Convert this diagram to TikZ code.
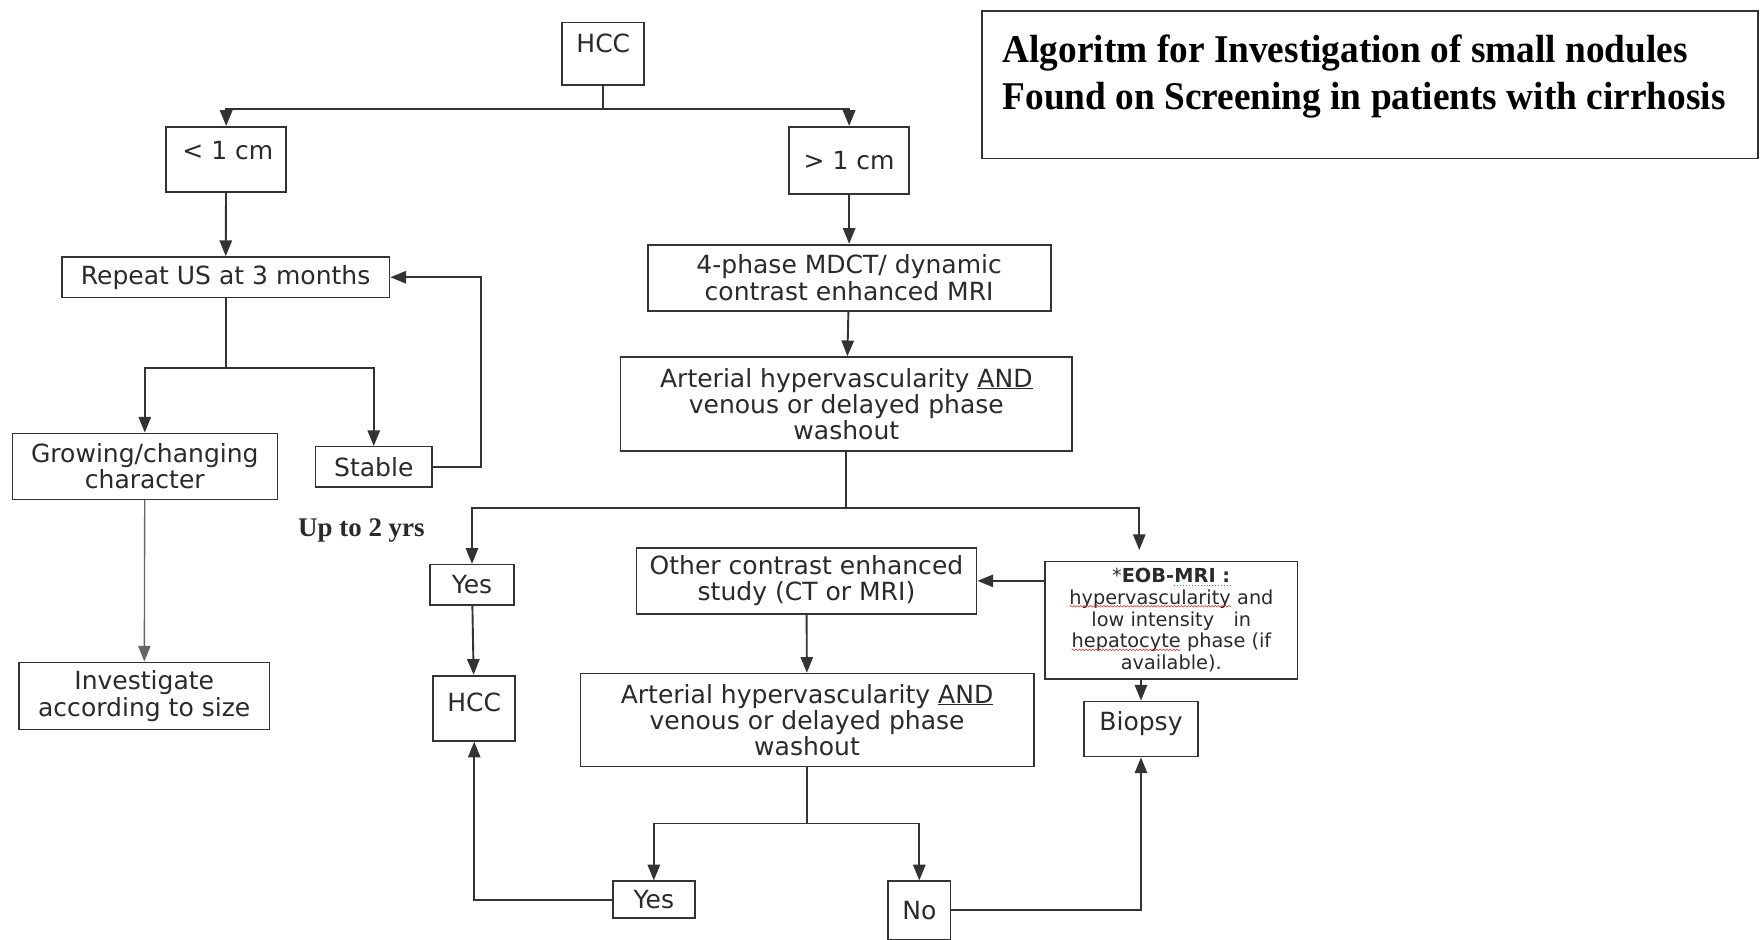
\documentclass[tikz,border=0pt]{standalone}
\usepackage{fontspec}
\setmainfont{Liberation Serif}
\newfontfamily\vfont{DejaVu Sans}
\usetikzlibrary{arrows.meta,decorations.pathmorphing,calc}
\definecolor{ln}{HTML}{333333}
\definecolor{tx}{HTML}{2A2A2A}
\definecolor{sqred}{HTML}{E03030}
\definecolor{sqgreen}{HTML}{30A030}
\tikzset{wrd/.style={inner sep=0pt,outer sep=0pt,minimum width=0pt,minimum height=0pt,draw=none,fill=none}}
\newcommand{\redsq}[1]{\tikz[baseline=(w.base),x=1pt,y=1pt]{\node[wrd](w){#1};\draw[sqred,line width=0.5pt,decorate,decoration={snake,amplitude=0.7pt,segment length=3pt}] ([yshift=-1.8pt]w.base west)--([yshift=-1.8pt]w.base east);}}
\newcommand{\grsq}[1]{\tikz[baseline=(w.base),x=1pt,y=1pt]{\node[wrd](w){#1};\draw[sqgreen,line width=0.6pt,dotted] ([yshift=-2.2pt]w.base west)--([yshift=-2.2pt]w.base east);}}
\tikzset{
  bx/.style={draw=ln,line width=1.6pt,inner sep=0pt,align=center,text=tx,font=\vfont\fontsize{22.3}{23.5}\selectfont},
  tl/.style={inner sep=0pt,align=center,text=tx,font=\vfont\fontsize{22.3}{23.5}\selectfont},
  arr/.style={draw=ln,line width=1.7pt,-{Triangle[length=14pt,width=11pt]}},
  ln/.style={draw=ln,line width=1.7pt},
}
\begin{document}
\begin{tikzpicture}[x=1pt,y=-1pt]
\useasboundingbox[fill=white] (0,0) rectangle (1568,837);
% title
\node[draw=ln,line width=1.3pt,minimum width=691pt,minimum height=131pt,inner sep=0pt] (title) at (1220.5,75.5) {};
\node[anchor=north west,align=left,inner sep=0pt,font=\bfseries\fontsize{35}{42}\selectfont] (tt) at (893,31)
  {\scalebox{0.95}[1]{Algoritm for Investigation of small nodules}\\\scalebox{0.95}[1]{Found on Screening in patients with cirrhosis}};
% nodes
\node[bx,minimum width=73pt,minimum height=56pt] (hcc) at (537.5,48) {};
\node[tl] (hcct) at (537.5,39) {HCC};
\node[bx,minimum width=107pt,minimum height=58pt] (lt) at (201.5,142) {};
\node[tl] (ltt) at (203,134) {< 1 cm};
\node[bx,minimum width=107pt,minimum height=60pt] (gt) at (756.5,143) {> 1 cm};
\node[bx,minimum width=292pt,minimum height=36pt] (rep) at (201,247) {Repeat US at 3 months};
\node[bx,minimum width=359pt,minimum height=59pt] (mdct) at (756.5,247.5) {4-phase MDCT/ dynamic\\contrast enhanced MRI};
\node[bx,line width=1.3pt,minimum width=402pt,minimum height=84pt] (art1) at (754,360) {Arterial hypervascularity \underline{AND}\\venous or delayed phase\\washout};
\node[bx,line width=1.3pt,minimum width=236pt,minimum height=59pt] (grow) at (129,415.5) {Growing/changing\\character};
\node[bx,line width=1.3pt,minimum width=104pt,minimum height=36pt] (stable) at (333,416) {Stable};
\node[inner sep=0pt,font=\bfseries\fontsize{24}{28}\selectfont,text=tx] (upto) at (322,473) {Up to 2 yrs};
\node[bx,line width=1.3pt,minimum width=223pt,minimum height=60pt] (inv) at (128.5,620) {Investigate\\according to size};
\node[bx,line width=1.3pt,minimum width=75pt,minimum height=36pt] (yes1) at (420.5,521) {Yes};
\node[bx,minimum width=73pt,minimum height=58pt] (hcc2) at (422.5,631) {};
\node[tl] (hcc2t) at (422.5,626) {HCC};
\node[bx,minimum width=303pt,minimum height=59pt] (other) at (718.5,517.5) {Other contrast enhanced\\study (CT or MRI)};
\node[bx,line width=1.1pt,minimum width=225pt,minimum height=105pt,font=\vfont\fontsize{17.2}{19.4}\selectfont] (eob) at (1043.5,552.5)
  {*\textbf{EOB-\grsq{\textbf{MRI :}}}\\\redsq{hypervascularity} and\\low intensity\quad in\\\redsq{hepatocyte} phase (if\\available).};
\node[bx,line width=1.3pt,minimum width=404pt,minimum height=83pt] (art2) at (719,641.5) {Arterial hypervascularity \underline{AND}\\venous or delayed phase\\washout};
\node[bx,minimum width=101pt,minimum height=49pt] (biopsy) at (1016.5,649.5) {};
\node[tl] (biopsyt) at (1016.5,645) {Biopsy};
\node[bx,line width=1.3pt,minimum width=73pt,minimum height=33pt] (yes2) at (582.5,801.5) {Yes};
\node[bx,line width=1.3pt,minimum width=56pt,minimum height=52pt] (no) at (819,811) {No};
% connectors
\draw[ln] (hcc.south) -- ++(0,20) coordinate (j1);
\draw[arr] (j1) -| (lt.north);
\draw[arr] (j1) -| (gt.north);
\draw[arr] (lt) -- (rep);
\draw[ln] (rep.south) -- ++(0,62) coordinate (j2);
\draw[arr] (j2) -| (grow.north);
\draw[arr] (j2) -| (stable.north);
\draw[arr] (stable.east) -- ++(43,0) |- (rep.east);
\draw[draw=ln!75,line width=1.2pt,-{Triangle[length=14pt,width=11pt]}] (grow) -- (inv);
\draw[arr] (gt) -- (mdct);
\draw[arr] (mdct) -- (art1);
\draw[ln] (art1.south) -- ++(0,50) coordinate (j3);
\coordinate (eobin) at (1015,490);
\draw[arr] (j3) -| (yes1.north);
\draw[arr] (j3) -| (eobin);
\draw[arr] (yes1) -- (hcc2);
\draw[arr] (eob.west |- other.east) -- (other.east);
\draw[arr] (other) -- (art2);
\draw[arr] (biopsy.north |- eob.south) -- (biopsy.north);
\draw[ln] (art2.south) -- ++(0,50) coordinate (j4);
\draw[arr] (j4) -| (yes2.north);
\draw[arr] (j4) -| (no.north);
\draw[arr] (yes2.west) -| (hcc2.south);
\draw[arr] (no.east) -| (biopsy.south);
\end{tikzpicture}
\end{document}
